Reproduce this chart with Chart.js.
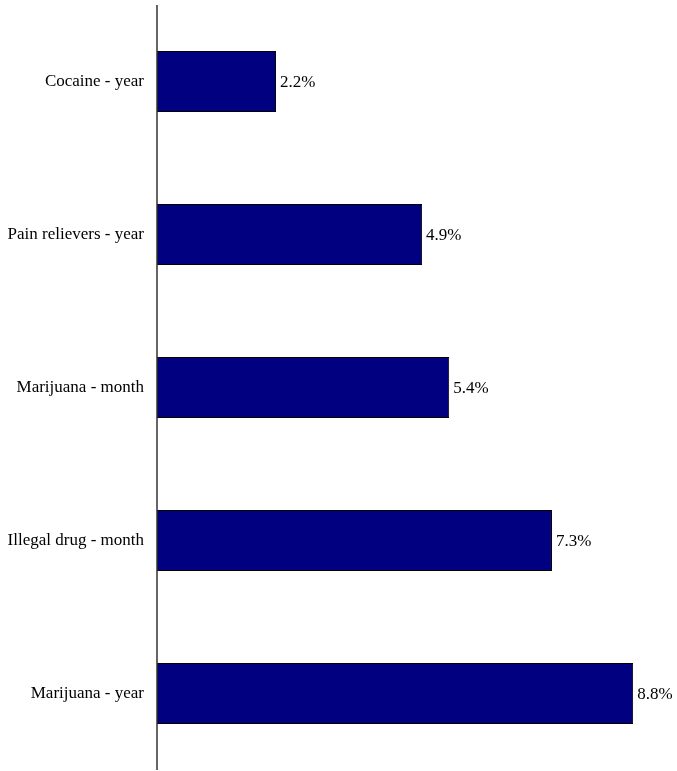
<!DOCTYPE html>
<html>
<head>
<meta charset="utf-8">
<script src="https://cdn.jsdelivr.net/npm/chart.js@4.4.0/dist/chart.umd.min.js"></script>
<style>
    html, body { margin: 0; padding: 0; background: #ffffff; }
    #wrap { width: 677px; height: 771px; }
</style>
</head>
<body>
<div id="wrap"><canvas id="chart"></canvas></div>
<script>
var categories = ["Cocaine - year", "Pain relievers - year", "Marijuana - month", "Illegal drug - month", "Marijuana - year"];
var values = [2.2, 4.9, 5.4, 7.3, 8.8];
var valueLabels = ["2.2%", "4.9%", "5.4%", "7.3%", "8.8%"];

var fontFamily = "'Liberation Serif', 'Times New Roman', serif";

// draws the percent text just right of each bar
var valueLabelPlugin = {
    id: "valueLabels",
    afterDatasetsDraw: function (chart) {
        let ctx = chart.ctx;
        let meta = chart.getDatasetMeta(0);
        ctx.save();
        ctx.font = "17px " + fontFamily;
        ctx.fillStyle = "#000000";
        ctx.textAlign = "left";
        ctx.textBaseline = "middle";
        meta.data.forEach(function (bar, i) {
            ctx.fillText(valueLabels[i], bar.x + 4, bar.y + 1);
        });
        ctx.restore();
    }
};

// vertical axis line at x = 0
var axisLinePlugin = {
    id: "axisLine",
    afterDatasetsDraw: function (chart) {
        let ctx = chart.ctx;
        let area = chart.chartArea;
        let x = chart.scales.x.getPixelForValue(0);
        ctx.save();
        ctx.strokeStyle = "#333333";
        ctx.lineWidth = 1.5;
        ctx.beginPath();
        ctx.moveTo(x, area.top);
        ctx.lineTo(x, area.bottom);
        ctx.stroke();
        ctx.restore();
    }
};

var chart = new Chart(document.getElementById("chart"), {
    type: "bar",
    data: {
        labels: categories,
        datasets: [
            {
                data: values,
                backgroundColor: "#000080",
                borderColor: "#000000",
                borderWidth: 1,
                borderSkipped: false,
                categoryPercentage: 1,
                barPercentage: 0.4
            }
        ]
    },
    options: {
        indexAxis: "y",
        responsive: true,
        maintainAspectRatio: false,
        animation: false,
        layout: {
            padding: { top: 5, bottom: 1, left: 0, right: 6 }
        },
        plugins: {
            legend: { display: false },
            tooltip: { enabled: false }
        },
        scales: {
            x: {
                min: 0,
                max: 9.5,
                display: false
            },
            y: {
                grid: { display: false, drawTicks: false },
                border: { display: false },
                ticks: {
                    color: "#000000",
                    padding: 13,
                    font: { family: fontFamily, size: 17 }
                },
                afterFit: function (scale) {
                    scale.width = 157;
                    scale.paddingTop = 0;
                    scale.paddingBottom = 0;
                }
            }
        }
    },
    plugins: [valueLabelPlugin, axisLinePlugin]
});
</script>
</body>
</html>
